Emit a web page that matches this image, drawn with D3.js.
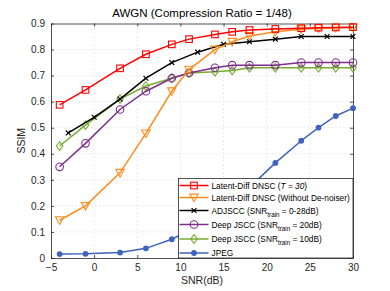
<!DOCTYPE html>
<html>
<head>
<meta charset="utf-8">
<script src="https://cdn.jsdelivr.net/npm/d3@7"></script>
<style>
  body { margin: 0; background: #fff; }
  svg { font-family: "Liberation Sans", Arial, sans-serif; }
</style>
</head>
<body>
<div id="chart"></div>
<script>
// x positions (SNR in dB)
const snr = [-4, -1, 3, 6, 9, 11, 14, 16, 18, 21, 24, 26, 28, 30];
const snrAdj = [-3, 0, 3, 6, 9, 12, 15, 18, 21, 24, 27, 30];

const latentDiff = [0.588, 0.645, 0.728, 0.782, 0.82, 0.84, 0.858, 0.868, 0.875, 0.879, 0.882, 0.884, 0.885, 0.886];
const latentNoDenoise = [0.145, 0.2, 0.327, 0.478, 0.64, 0.723, 0.8, 0.83, 0.852, 0.868, 0.878, 0.882, 0.884, 0.885];
const adjscc = [0.48, 0.54, 0.61, 0.69, 0.75, 0.79, 0.82, 0.83, 0.84, 0.85, 0.85, 0.85];
const deepJscc20 = [0.35, 0.44, 0.57, 0.64, 0.69, 0.71, 0.73, 0.74, 0.74, 0.74, 0.75, 0.75, 0.75, 0.75];
const deepJscc10 = [0.43, 0.51, 0.61, 0.66, 0.69, 0.71, 0.715, 0.72, 0.73, 0.73, 0.73, 0.73, 0.73, 0.73];
const jpeg = [0.015, 0.016, 0.021, 0.037, 0.072, 0.105, 0.16, 0.21, 0.27, 0.365, 0.45, 0.5, 0.545, 0.575];

const xTicks = [-5, 0, 5, 10, 15, 20, 25, 30];
const yTicks = [0, 0.1, 0.2, 0.3, 0.4, 0.5, 0.6, 0.7, 0.8, 0.9];

const series = [
  { xs: snr, ys: latentDiff, color: "#ff0000", marker: "square", label: ["Latent-Diff DNSC (", { i: "T = 30" }, ")"] },
  { xs: snr, ys: latentNoDenoise, color: "#ff8c1a", marker: "tri", label: ["Latent-Diff DNSC (Without De-noiser)"] },
  { xs: snrAdj, ys: adjscc, color: "#000000", marker: "x", label: ["ADJSCC (SNR", { sub: "train" }, " = 0-28dB)"] },
  { xs: snr, ys: deepJscc20, color: "#7e2f8e", marker: "circle", label: ["Deep JSCC (SNR", { sub: "train" }, " = 20dB)"] },
  { xs: snr, ys: deepJscc10, color: "#77ac30", marker: "diamond", label: ["Deep JSCC (SNR", { sub: "train" }, " = 10dB)"] },
  { xs: snr, ys: jpeg, color: "#3f62bf", marker: "dot", label: ["JPEG"] }
];

const W = 390, H = 291;
const margin = { left: 51, right: 37, top: 23.5, bottom: 33 };

const svg = d3.select("#chart").append("svg")
  .attr("width", W).attr("height", H);

const x = d3.scaleLinear().domain([-5, 30]).range([margin.left, W - margin.right]);
const y = d3.scaleLinear().domain([0, 0.9]).range([H - margin.bottom, margin.top]);

// grid
svg.append("g").selectAll("line").data(xTicks.slice(1, -1)).join("line")
  .attr("x1", d => x(d)).attr("x2", d => x(d))
  .attr("y1", y(0)).attr("y2", y(0.9))
  .attr("stroke", "#dcdcdc").attr("stroke-width", 0.6).attr("stroke-dasharray", "2,2");
svg.append("g").selectAll("line").data(yTicks.slice(1, -1)).join("line")
  .attr("y1", d => y(d)).attr("y2", d => y(d))
  .attr("x1", x(-5)).attr("x2", x(30))
  .attr("stroke", "#dcdcdc").attr("stroke-width", 0.6).attr("stroke-dasharray", "2,2");

// axes (MATLAB style: inward ticks, box)
const axCol = "#262626";
const xAxis = svg.append("g").attr("transform", `translate(0,${y(0)})`)
  .call(d3.axisBottom(x).tickValues(xTicks).tickSizeInner(-3).tickSizeOuter(0).tickPadding(6));
const xTop = svg.append("g").attr("transform", `translate(0,${y(0.9)})`)
  .call(d3.axisTop(x).tickValues(xTicks).tickSizeInner(-3).tickSizeOuter(0).tickFormat(""));
const yAxis = svg.append("g").attr("transform", `translate(${x(-5)},0)`)
  .call(d3.axisLeft(y).tickValues(yTicks).tickSizeInner(-3).tickSizeOuter(0).tickPadding(6)
    .tickFormat(d => d === 0 ? "0" : d3.format(".1f")(d)));
const yRight = svg.append("g").attr("transform", `translate(${x(30)},0)`)
  .call(d3.axisRight(y).tickValues(yTicks).tickSizeInner(-3).tickSizeOuter(0).tickFormat(""));
[xAxis, xTop, yAxis, yRight].forEach(g => {
  g.selectAll("path").attr("stroke", axCol).attr("stroke-width", 0.8);
  g.selectAll("line").attr("stroke", axCol).attr("stroke-width", 0.8);
  g.selectAll("text").attr("fill", axCol).attr("font-size", 10).attr("font-family", "Liberation Sans, Arial, sans-serif");
});

// title and labels
svg.append("text").attr("x", (x(-5) + x(30)) / 2).attr("y", 17)
  .attr("text-anchor", "middle").attr("font-size", 11.5).attr("fill", "#000")
  .text("AWGN (Compression Ratio = 1/48)");
svg.append("text").attr("x", (x(-5) + x(30)) / 2).attr("y", 284)
  .attr("text-anchor", "middle").attr("font-size", 10.5).attr("fill", axCol)
  .text("SNR(dB)");
svg.append("text").attr("transform", `translate(25,${(y(0) + y(0.9)) / 2}) rotate(-90)`)
  .attr("text-anchor", "middle").attr("font-size", 10.5).attr("fill", axCol)
  .text("SSIM");

function drawMarker(g, type, cx, cy, color) {
  if (type === "square") {
    g.append("rect").attr("x", cx - 3.3).attr("y", cy - 3.3).attr("width", 6.6).attr("height", 6.6)
      .attr("fill", "none").attr("stroke", color).attr("stroke-width", 1.1);
  } else if (type === "tri") {
    g.append("path").attr("d", `M${cx - 4.2},${cy - 3.4}L${cx + 4.2},${cy - 3.4}L${cx},${cy + 4.2}Z`)
      .attr("fill", "none").attr("stroke", color).attr("stroke-width", 1.1);
  } else if (type === "x") {
    g.append("path").attr("d", `M${cx - 2.4},${cy - 2.4}L${cx + 2.4},${cy + 2.4}M${cx - 2.4},${cy + 2.4}L${cx + 2.4},${cy - 2.4}`)
      .attr("stroke", color).attr("stroke-width", 1.2);
  } else if (type === "circle") {
    g.append("circle").attr("cx", cx).attr("cy", cy).attr("r", 3.8)
      .attr("fill", "none").attr("stroke", color).attr("stroke-width", 1.1);
  } else if (type === "diamond") {
    g.append("path").attr("d", `M${cx},${cy - 4.3}L${cx + 3.3},${cy}L${cx},${cy + 4.3}L${cx - 3.3},${cy}Z`)
      .attr("fill", "none").attr("stroke", color).attr("stroke-width", 1.1);
  } else if (type === "dot") {
    g.append("circle").attr("cx", cx).attr("cy", cy).attr("r", 2.9).attr("fill", color);
  }
}

const plot = svg.append("g");
const line = d3.line().x(d => x(d[0])).y(d => y(d[1]));

// draw in reverse so red sits on top
series.slice().reverse().forEach(s => {
  const pts = s.xs.map((v, i) => [v, s.ys[i]]);
  const g = plot.append("g");
  g.append("path").datum(pts).attr("d", line)
    .attr("fill", "none").attr("stroke", s.color).attr("stroke-width", 1.5);
  pts.forEach(p => drawMarker(g, s.marker, x(p[0]), y(p[1]), s.color));
});

// legend
const lg = svg.append("g");
const lgX = 178.5, lgY = 178.5, lgW = x(30) - lgX, lgH = y(0) - lgY;
lg.append("rect").attr("x", lgX).attr("y", lgY).attr("width", lgW).attr("height", lgH)
  .attr("fill", "#fff").attr("stroke", axCol).attr("stroke-width", 0.8);
const rowY = [185.5, 197.5, 210.5, 224.5, 239, 253];
series.forEach((s, i) => {
  const ry = rowY[i];
  lg.append("line").attr("x1", lgX + 1).attr("x2", lgX + 30).attr("y1", ry).attr("y2", ry)
    .attr("stroke", s.color).attr("stroke-width", 1.5);
  drawMarker(lg, s.marker, lgX + 15.5, ry, s.color);
  const t = lg.append("text").attr("x", lgX + 33).attr("y", ry + 3.2)
    .attr("font-size", 8.3).attr("fill", "#000");
  let shift = 0;
  s.label.forEach(part => {
    if (typeof part === "string") {
      t.append("tspan").attr("dy", -shift).text(part);
      shift = 0;
    } else if (part.i) {
      t.append("tspan").attr("font-style", "italic").text(part.i);
    } else if (part.sub) {
      t.append("tspan").attr("font-size", 6.3).attr("dy", 3).text(part.sub);
      shift = 3;
    }
  });
});
</script>
</body>
</html>
